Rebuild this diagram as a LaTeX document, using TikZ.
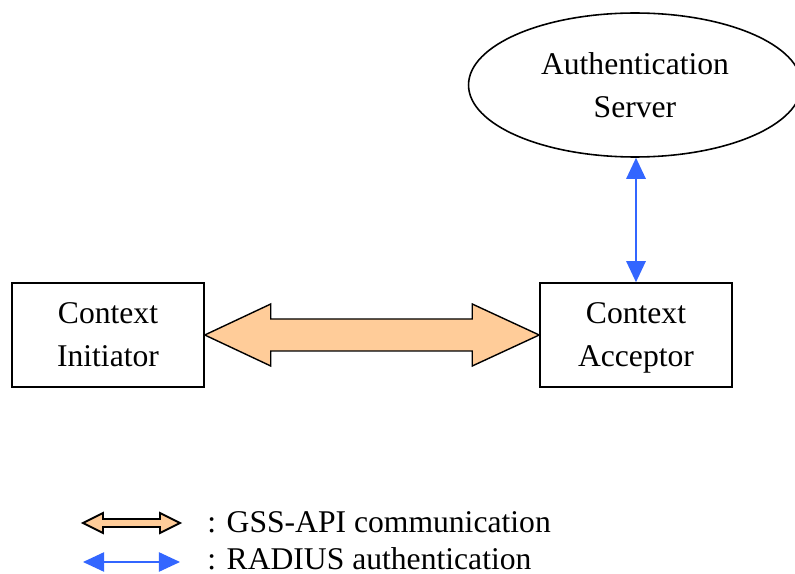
\documentclass[tikz,border=0pt]{standalone}
\usepackage{fontspec}
\setmainfont{Liberation Serif}
\usetikzlibrary{positioning,arrows.meta,calc,shapes.geometric}
\definecolor{gssFill}{HTML}{FFCC99}
\definecolor{radBlue}{HTML}{3366FF}
\begin{document}
\begin{tikzpicture}[x=0.02cm,y=-0.02cm,
          box/.style={draw, line width=0.9pt, minimum width=3.84cm, minimum height=2.08cm,
            align=center, text depth=0pt, font=\fontsize{18}{24.5}\selectfont},
          srv/.style={draw, ellipse, line width=0.9pt, minimum width=6.66cm, minimum height=2.88cm,
            align=center, text depth=0pt, font=\fontsize{18}{24.5}\selectfont},
          gss/.style={draw, line width=0.8pt, fill=gssFill, line join=miter},
          radarrow/.style={{Triangle[length=12pt,width=11pt]}-{Triangle[length=12pt,width=11pt]},
            line width=1.1pt, radBlue},
          lbl/.style={anchor=base west, inner sep=0pt, font=\fontsize{18}{24.5}\selectfont}]
        \useasboundingbox (0,0) rectangle (795,574);
        \node[srv] (srv) at (635,85) {Authentication\\Server};
        \node[box] (ci) at (108,335) {Context\\Initiator};
        \node[box] (ca) at (636,335) {Context\\Acceptor};
        % GSS-API exchange
        \draw[gss] (ci.east) -- ++(66,-31) -- ++(0,15) -- ($(ca.west)+(-67,-16)$) -- ++(0,-15)
          -- (ca.west) -- ++(-67,31) -- ++(0,-15) -- ($(ci.east)+(66,16)$) -- ++(0,15) -- cycle;
        % RADIUS
        \draw[radarrow] (srv.south -| ca.north) -- (ca.north);
        % legend
        \coordinate (g1) at (83,523);
        \coordinate (g2) at (180,523);
        \coordinate (r1) at (83,562);
        \coordinate (r2) at (180,562);
        \draw[gss, line width=1.1pt] (g1) -- ++(20,-10) -- ++(0,6) -- ($(g2)+(-20,-4)$) -- ++(0,-6)
          -- (g2) -- ++(-20,10) -- ++(0,-6) -- ($(g1)+(20,4)$) -- ++(0,6) -- cycle;
        \draw[radarrow, line width=0.8pt] (r1) -- (r2);
        \node[lbl] (gl) at (207,532) {: GSS-API communication};
        \node[lbl] (rl) at (207,569) {: RADIUS authentication};
      \end{tikzpicture}
\end{document}
